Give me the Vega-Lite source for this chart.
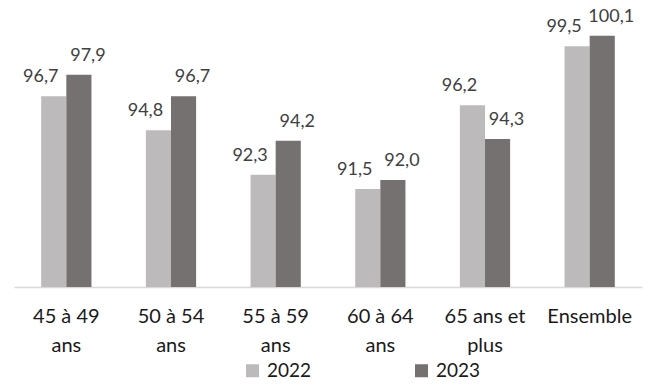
{
  "$schema": "https://vega.github.io/schema/vega-lite/v6.json",
  "width": 628,
  "height": 287,
  "autosize": "none",
  "padding": {"left": 14, "top": 0, "right": 8, "bottom": 98},
  "background": "white",
  "config": {
    "view": {"stroke": null},
    "font": "Lato",
    "locale": {"number": {"decimal": ",", "thousands": " ", "grouping": [3], "currency": ["", " €"]}}
  },
  "data": {
    "values": [
      {"cat": "45 à 49 ans", "year": "2022", "value": 96.7},
      {"cat": "45 à 49 ans", "year": "2023", "value": 97.9},
      {"cat": "50 à 54 ans", "year": "2022", "value": 94.8},
      {"cat": "50 à 54 ans", "year": "2023", "value": 96.7},
      {"cat": "55 à 59 ans", "year": "2022", "value": 92.3},
      {"cat": "55 à 59 ans", "year": "2023", "value": 94.2},
      {"cat": "60 à 64 ans", "year": "2022", "value": 91.5},
      {"cat": "60 à 64 ans", "year": "2023", "value": 92.0},
      {"cat": "65 ans et plus", "year": "2022", "value": 96.2},
      {"cat": "65 ans et plus", "year": "2023", "value": 94.3},
      {"cat": "Ensemble", "year": "2022", "value": 99.5},
      {"cat": "Ensemble", "year": "2023", "value": 100.1}
    ]
  },
  "encoding": {
    "x": {
      "field": "cat",
      "type": "nominal",
      "sort": null,
      "scale": {"paddingInner": 0.52, "paddingOuter": 0.26},
      "axis": {
        "title": null,
        "labelAngle": 0,
        "domainColor": "#d9d9d9",
        "domainWidth": 1.5,
        "ticks": false,
        "labelFont": "Lato",
        "labelFontSize": 20,
        "labelColor": "#1a1a1a",
        "labelPadding": 19,
        "labelLineHeight": 29,
        "labelExpr": "datum.value == 'Ensemble' ? 'Ensemble' : [substring(datum.value, 0, lastindexof(datum.value, ' ')), substring(datum.value, lastindexof(datum.value, ' ') + 1)]"
      }
    },
    "xOffset": {"field": "year", "type": "nominal", "scale": {"paddingInner": 0}},
    "y": {
      "field": "value",
      "type": "quantitative",
      "scale": {"domain": [86, 102.1], "zero": false, "nice": false},
      "axis": null
    }
  },
  "layer": [
    {
      "mark": {"type": "bar", "clip": true},
      "encoding": {
        "color": {
          "field": "year",
          "type": "nominal",
          "scale": {"domain": ["2022", "2023"], "range": ["#bcbaba", "#767171"]},
          "legend": {
            "title": null,
            "orient": "none",
            "direction": "horizontal",
            "legendX": 229,
            "legendY": 361,
            "symbolType": "square",
            "symbolSize": 169,
            "symbolStrokeWidth": 0,
            "labelFont": "Lato",
            "labelFontSize": 19,
            "labelColor": "#1a1a1a",
            "labelOffset": 5,
            "columnPadding": 100
          }
        }
      }
    },
    {
      "transform": [{"filter": "datum.year == '2022'"}],
      "mark": {"type": "text", "font": "Lato", "dx": -13, "dy": -14, "baseline": "alphabetic", "fontSize": 18, "color": "#404040"},
      "encoding": {"text": {"field": "value", "type": "quantitative", "format": ".1f"}}
    },
    {
      "transform": [{"filter": "datum.year == '2023'"}],
      "mark": {"type": "text", "font": "Lato", "dx": 9, "dy": -14, "baseline": "alphabetic", "fontSize": 18, "color": "#404040"},
      "encoding": {"text": {"field": "value", "type": "quantitative", "format": ".1f"}}
    }
  ]
}
